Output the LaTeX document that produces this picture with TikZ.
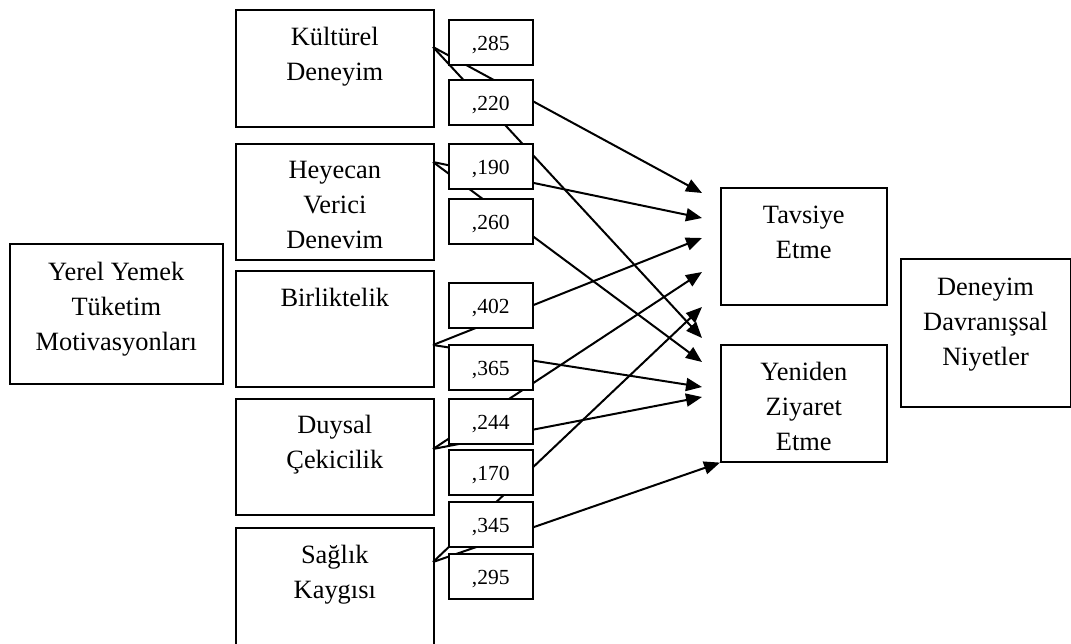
\documentclass[tikz,border=0pt]{standalone}
\usepackage{fontspec}
\setmainfont{Liberation Serif}
\usetikzlibrary{arrows.meta}
\newcommand{\stack}[1]{\begin{tabular}[t]{@{}c@{}}#1\end{tabular}}
\begin{document}
\begin{tikzpicture}[x=1pt,y=-1pt,
  txt/.style={font=\fontsize{26.4}{35}\selectfont},
  box/.style={draw, line width=1.6pt, fill=white, inner sep=0pt, anchor=north west},
  lbl/.style={txt, anchor=base, inner sep=0pt},
  valbox/.style={box, font=\fontsize{21.5}{26}\selectfont,
    minimum width=84pt, minimum height=45pt, text height=15.5pt, text depth=0pt},
  link/.style={line width=2pt, -{Triangle[length=16pt,width=13pt]}}
]
\useasboundingbox (0,0) rectangle (1071,643);

% outer construct boxes
\node[box, minimum width=213pt, minimum height=140pt] (yy) at (9,243) {};
\node[lbl] at ([yshift=-37pt]yy.north) {\stack{Yerel Yemek\\Tüketim\\Motivasyonları}};
\node[box, minimum width=169.5pt, minimum height=148pt] (dd) at (900,258) {};
\node[lbl] at ([yshift=-37pt]dd.north) {\stack{Deneyim\\Davranışsal\\Niyetler}};

% motivation dimensions
\node[box, minimum width=198pt, minimum height=117pt] (kd) at (235,9) {};
\node[lbl] at ([yshift=-36pt]kd.north) {\stack{Kültürel\\Deneyim}};
\node[box, minimum width=198pt, minimum height=116pt] (hv) at (235,143) {};
\node[lbl] at ([yshift=-35pt]hv.north) {\stack{Heyecan\\Verici\\Denevim}};
\node[box, minimum width=198pt, minimum height=116pt] (bi) at (235,270) {};
\node[lbl] at ([yshift=-36pt]bi.north) {\stack{Birliktelik}};
\node[box, minimum width=198pt, minimum height=116pt] (du) at (235,398) {};
\node[lbl] at ([yshift=-35pt]du.north) {\stack{Duysal\\Çekicilik}};
\node[box, minimum width=198pt, minimum height=130pt] (sa) at (235,527) {};
\node[lbl] at ([yshift=-36pt]sa.north) {\stack{Sağlık\\Kaygısı}};

% behavioural intentions
\node[box, minimum width=166pt, minimum height=117pt] (tv) at (720,187) {};
\node[lbl] at ([yshift=-36pt]tv.north) {\stack{Tavsiye\\Etme}};
\node[box, minimum width=166pt, minimum height=117pt] (yz) at (720,344) {};
\node[lbl] at ([yshift=-36pt]yz.north) {\stack{Yeniden\\Ziyaret\\Etme}};

% path start points on the dimension boxes
\coordinate (kdo) at (433,47);
\coordinate (hvo) at (433,162);
\coordinate (bio) at (433,345);
\coordinate (duo) at (433,449);
\coordinate (sao) at (433,562);

% arrow ends in front of the outcome boxes
\coordinate (tv1) at (702,193);
\coordinate (tv2) at (702,218);
\coordinate (tv3) at (702,238);
\coordinate (tv4) at (702,272);
\coordinate (tv5) at (702,307);
\coordinate (yz1) at (702,338);
\coordinate (yz2) at (702,362);
\coordinate (yz3) at (702,387);
\coordinate (yz4) at (702,397);

\draw[link] (kdo) -- (tv1);
\draw[link] (kdo) -- (yz1);
\draw[link] (hvo) -- (tv2);
\draw[link] (hvo) -- (yz2);
\draw[link] (bio) -- (tv3);
\draw[link] (bio) -- (yz3);
\draw[link] (duo) -- (tv4);
\draw[link] (duo) -- (yz4);
\draw[link] (sao) -- (tv5);
\draw[link] (sao) -- (yz.south west);

% path coefficients
\node[valbox] (v1) at (448,19) {,285};
\node[valbox] (v2) at (448,79) {,220};
\node[valbox] (v3) at (448,143) {,190};
\node[valbox] (v4) at (448,198) {,260};
\node[valbox] (v5) at (448,282) {,402};
\node[valbox] (v6) at (448,344) {,365};
\node[valbox] (v7) at (448,398) {,244};
\node[valbox] (v8) at (448,449) {,170};
\node[valbox] (v9) at (448,501) {,345};
\node[valbox] (v10) at (448,553) {,295};
\end{tikzpicture}
\end{document}
